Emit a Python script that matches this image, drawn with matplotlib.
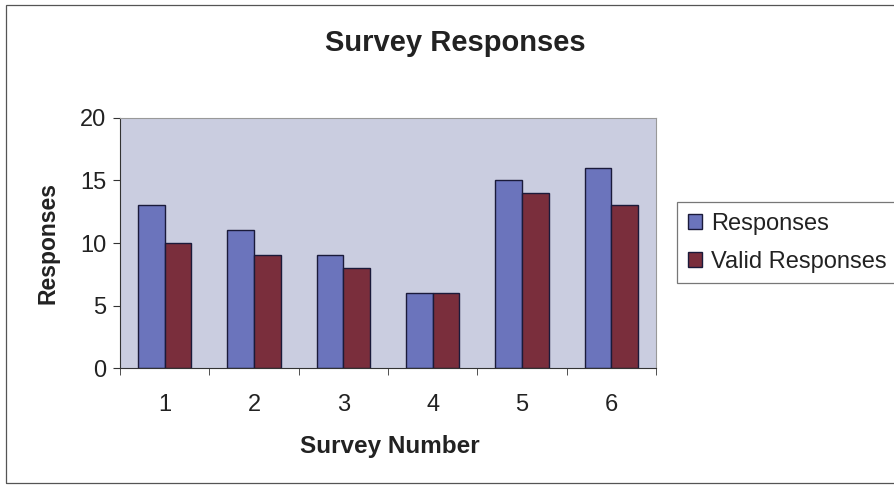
import numpy as np
import matplotlib
matplotlib.use("Agg")
import matplotlib.pyplot as plt
from matplotlib.patches import Rectangle

surveys = ["1", "2", "3", "4", "5", "6"]
responses = [13, 11, 9, 6, 15, 16]
valid_responses = [10, 9, 8, 6, 14, 13]

plt.rcParams["font.family"] = ["Liberation Sans", "DejaVu Sans"]

fig = plt.figure(figsize=(8.95, 4.86), dpi=100)
fig.patch.set_facecolor("white")

# outer chart frame (runs off the right edge)
fig.add_artist(Rectangle((6 / 895, 3 / 486), 1.0, 478 / 486, transform=fig.transFigure,
                         fill=False, edgecolor="#555555", linewidth=0.9))

ax = fig.add_axes([120 / 895, 118 / 486, 536 / 895, 250 / 486])
ax.set_facecolor("#CACDE0")

x = np.arange(len(surveys))
w = 0.3
ax.bar(x - w / 2, responses, w, color="#6B74BC", edgecolor="#1A1A3A",
       linewidth=1.0, label="Responses")
ax.bar(x + w / 2, valid_responses, w, color="#7A2E3C", edgecolor="#1A1A3A",
       linewidth=1.0, label="Valid Responses")

ax.set_xlim(-0.5, len(surveys) - 0.5)
ax.set_ylim(0, 20)
ax.set_yticks([0, 5, 10, 15, 20])
ax.set_xticks(x)
ax.set_xticklabels(surveys)
ax.set_xticks(np.arange(-0.5, len(surveys)), minor=True)
ax.tick_params(axis="x", which="major", length=0, labelsize=17, pad=19,
               labelcolor="#222222")
ax.tick_params(axis="x", which="minor", length=5, direction="out", color="#333333")
ax.tick_params(axis="y", length=5, direction="out", labelsize=17, color="#333333",
               pad=5, labelcolor="#222222")

for side in ["top", "right"]:
    ax.spines[side].set_color("#999999")
for side in ["left", "bottom"]:
    ax.spines[side].set_color("#333333")

ax.set_xlabel("Survey Number", fontsize=17.5, fontweight="bold", color="#222222")
ax.xaxis.set_label_coords((390 - 120) / 536, (368 - 446) / 250)
ax.xaxis.label.set_verticalalignment("center")
ax.set_ylabel("Responses", fontsize=16.5, fontweight="bold", color="#222222")
ax.yaxis.set_label_coords((48 - 120) / 536, 0.5)
ax.yaxis.label.set_verticalalignment("center")

fig.text(455 / 895, 1 - 43 / 486, "Survey Responses", fontsize=21,
         fontweight="bold", ha="center", va="center", color="#222222")

leg = fig.legend(loc="upper left", bbox_to_anchor=(677 / 895, 1 - 202 / 486),
                 fontsize=17, frameon=True, fancybox=False, handlelength=0.62,
                 handleheight=0.62, handletextpad=0.38, borderpad=0.45,
                 labelspacing=0.68, borderaxespad=0)
leg.get_frame().set_edgecolor("#555555")
leg.get_frame().set_linewidth(0.9)
for t in leg.get_texts():
    t.set_color("#222222")

fig.savefig("out.png", dpi=100)
